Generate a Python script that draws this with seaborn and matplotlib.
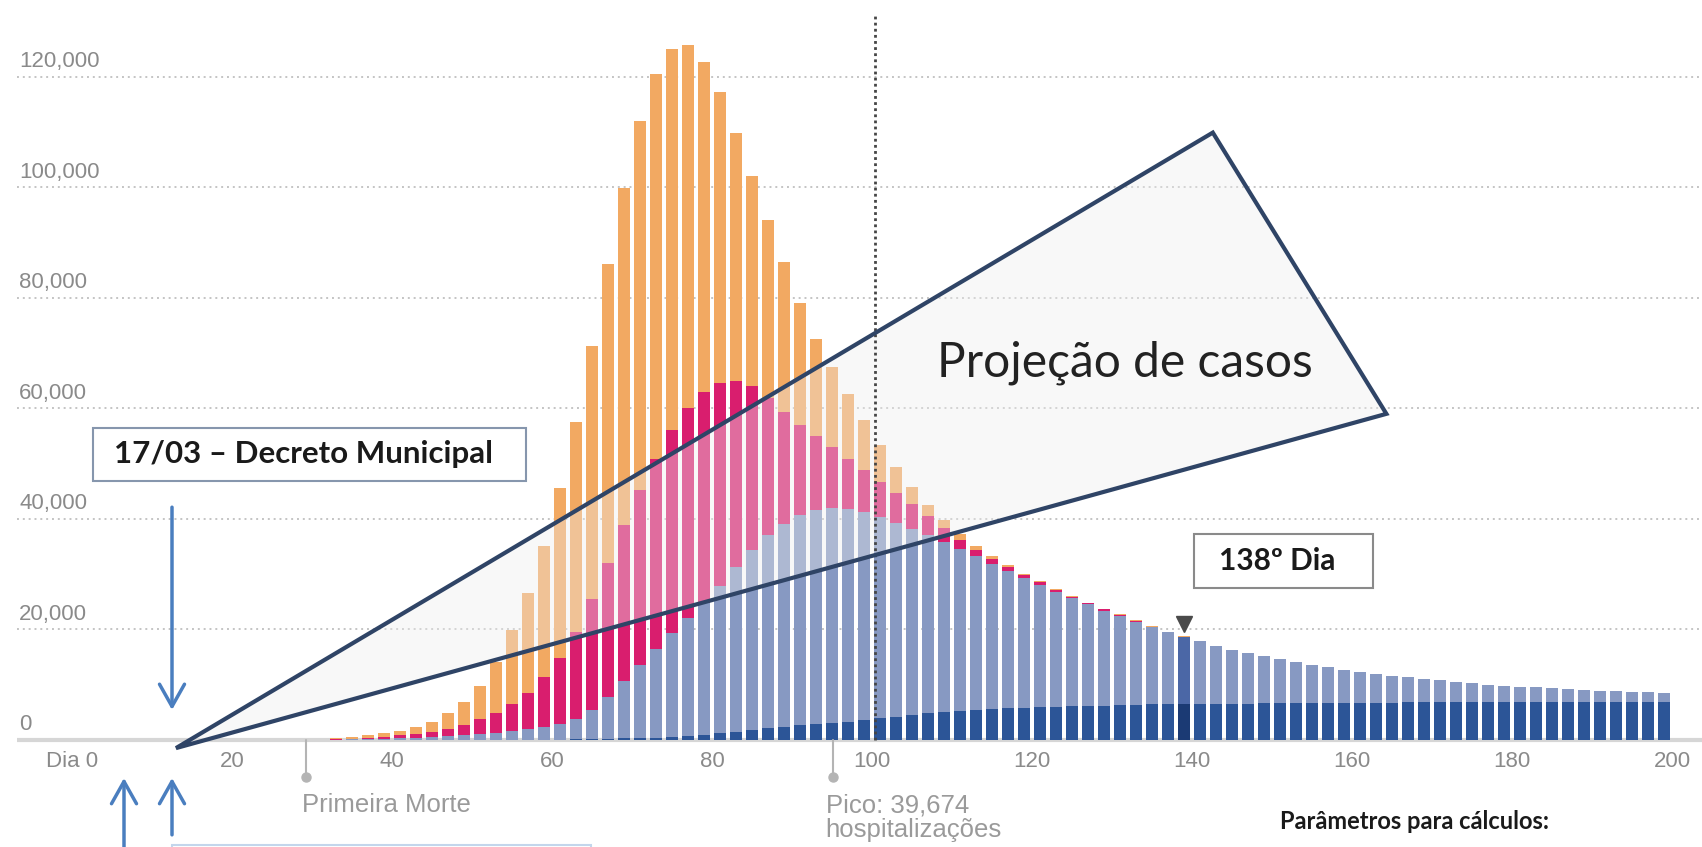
import numpy as np
import pandas as pd
import matplotlib
matplotlib.use("Agg")
import matplotlib.pyplot as plt
import seaborn as sns
from matplotlib.patches import Polygon, Rectangle

# ======================= DATA ======================
# one bar every 2 days (odd day positions), values in thousands
days = list(range(33, 200, 2))

casos = [0.3, 0.5, 0.8, 1.2, 1.6, 2.3, 3.3, 4.8, 6.8, 9.8, 14.0, 19.9, 26.6, 35.0,
         45.6, 57.5, 71.2, 86.1, 99.8, 112.0, 120.5, 125.1, 125.7, 122.7, 117.2,
         109.9, 102.0, 94.0, 86.4, 79.1, 72.5, 67.5, 62.5, 57.8, 53.3, 49.4, 45.7,
         42.5, 39.8, 37.2, 35.0, 33.2, 31.6, 30.1, 28.7, 27.3, 26.0, 24.8, 23.7,
         22.7, 21.6, 20.6, 19.6, 18.7,
         17.8, 17.0, 16.3, 15.7, 15.1, 14.6, 14.0, 13.5, 13.1, 12.7, 12.3, 12.0,
         11.6, 11.3, 11.0, 10.8, 10.5, 10.2, 10.0, 9.8, 9.6, 9.5, 9.3, 9.2, 9.0,
         8.9, 8.8, 8.7, 8.6, 8.4]

graves = [0.1, 0.2, 0.35, 0.5, 0.8, 1.1, 1.5, 2.0, 2.7, 3.7, 4.9, 6.5, 8.5, 11.4,
          14.8, 19.5, 25.5, 32.0, 38.8, 45.2, 50.9, 56.0, 60.0, 63.0, 64.6, 65.0,
          64.0, 61.8, 59.3, 57.0, 55.0, 53.0, 50.9, 48.8, 46.7, 44.6, 42.6, 40.5,
          38.4, 36.2, 34.4, 32.8, 31.3, 29.9, 28.5, 27.2, 25.9, 24.7, 23.6, 22.6,
          21.5, 20.5, 19.5, 18.6,
          17.8, 17.0, 16.3, 15.7, 15.1, 14.6, 14.0, 13.5, 13.1, 12.7, 12.3, 12.0,
          11.6, 11.3, 11.0, 10.8, 10.5, 10.2, 10.0, 9.8, 9.6, 9.5, 9.3, 9.2, 9.0,
          8.9, 8.8, 8.7, 8.6, 8.4]

hospitalizacoes = [0.05, 0.1, 0.15, 0.2, 0.3, 0.4, 0.5, 0.6, 0.8, 1.0, 1.3, 1.6,
                   2.0, 2.4, 2.9, 3.7, 5.4, 7.8, 10.6, 13.6, 16.5, 19.3, 22.0,
                   24.8, 27.9, 31.2, 34.3, 37.0, 39.0, 40.6, 41.6, 42.0, 41.8,
                   41.2, 40.3, 39.3, 38.2, 37.0, 35.8, 34.5, 33.2, 31.9, 30.6,
                   29.3, 28.0, 26.8, 25.6, 24.5, 23.4, 22.4, 21.4, 20.4, 19.5, 18.6,
                   17.8, 17.0, 16.3, 15.7, 15.1, 14.6, 14.0, 13.5, 13.1, 12.7, 12.3,
                   12.0, 11.6, 11.3, 11.0, 10.8, 10.5, 10.2, 10.0, 9.8, 9.6, 9.5,
                   9.3, 9.2, 9.0, 8.9, 8.8, 8.7, 8.6, 8.4]

uti = [0, 0, 0, 0, 0, 0, 0, 0, 0, 0, 0, 0, 0, 0, 0,
       0.1, 0.15, 0.2, 0.25, 0.3, 0.4, 0.5, 0.6, 0.9, 1.2, 1.5, 1.8, 2.1, 2.4,
       2.7, 2.9, 3.1, 3.3, 3.5,
       3.9, 4.2, 4.5, 4.8, 5.0, 5.2, 5.4, 5.6, 5.7, 5.8, 5.9, 6.0, 6.1, 6.2, 6.2,
       6.3, 6.3, 6.4, 6.4, 6.4, 6.5, 6.5, 6.5, 6.5, 6.6, 6.6, 6.6, 6.6, 6.7, 6.7,
       6.7, 6.7, 6.7, 6.8, 6.8, 6.8, 6.8, 6.8, 6.8, 6.9, 6.9, 6.9, 6.9, 6.9, 6.9,
       6.9, 6.9, 6.9, 6.9, 6.9]

x_ticks = [0, 20, 40, 60, 80, 100, 120, 140, 160, 180, 200]
x_tick_labels = ["Dia 0", "20", "40", "60", "80", "100", "120", "140", "160", "180", "200"]
y_ticks = [0, 20000, 40000, 60000, 80000, 100000, 120000]
y_tick_labels = ["0", "20,000", "40,000", "60,000", "80,000", "100,000", "120,000"]

dia_destaque = 139          # bar marked "138º Dia"
dia_primeira_morte = 29.25
dia_pico = 95.1
dia_hoje = 100.4            # dotted vertical line

# projection triangle (day, value)
triangulo = [(13, -1500), (142.6, 109900), (164.3, 59000)]

df = pd.DataFrame({"dia": days,
                   "casos": np.array(casos) * 1000,
                   "graves": np.array(graves) * 1000,
                   "hosp": np.array(hospitalizacoes) * 1000,
                   "uti": np.array(uti) * 1000})

# ======================= PLOT ======================
sns.set_theme(style="white")
plt.rcParams["font.family"] = ["Liberation Sans", "DejaVu Sans"]

fig = plt.figure(figsize=(17.02, 8.47), dpi=100)
ax = fig.add_axes([0, 0, 1, 1])

grey_txt = "#8a8a8a"

# gridlines + baseline
ax.hlines(y_ticks[1:], -6.9, 204, colors="#c4c4c4", linestyles=(0, (1, 2)), lw=1.4, zorder=1)
ax.hlines(0, -6.9, 204, colors="#d6d6d6", lw=3, zorder=1.5)

layers = [("casos", "#f2a962", "#f2a962"),
          ("graves", "#d91e6e", "#d91e6e"),
          ("hosp", "#8799c2", "#4b67a6"),
          ("uti", "#2c5597", "#1b3a74")]
for col, color, highlight in layers:
    sns.barplot(data=df, x="dia", y=col, native_scale=True, width=0.78, color=color,
                saturation=1, errorbar=None, linewidth=0, ax=ax, zorder=2)
    for p in ax.containers[-1]:
        if abs(p.get_x() + p.get_width() / 2 - dia_destaque) < 0.5:
            p.set_facecolor(highlight)

# projection triangle
ax.add_patch(Polygon(triangulo, closed=True, facecolor=(0.93, 0.93, 0.93, 0.38),
                     edgecolor="none", zorder=3))
ax.vlines(dia_hoje, 0, 131500, colors="#454545", linestyles=(0, (1, 1.2)), lw=2, zorder=4)
ax.add_patch(Polygon(triangulo, closed=True, facecolor="none", edgecolor="#2f4466",
                     lw=3, joinstyle="miter", zorder=5))
ax.text(108.1, 65700, "Projeção de casos", fontsize=34.5, family="Lato", color="#222222",
        ha="left", va="baseline", zorder=6)

# markers below the axis
for d in [dia_primeira_morte, dia_pico]:
    ax.plot([d, d], [0, -6700], color="#b4b4b4", lw=1.5, zorder=2)
    ax.plot(d, -6700, marker="o", ms=6.5, color="#b4b4b4", zorder=2)
ax.text(dia_primeira_morte - 0.5, -11800, "Primeira Morte", fontsize=18.5, color="#9a9a9a",
        ha="left", va="center")
ax.text(dia_pico - 0.9, -11800, "Pico: 39,674", fontsize=18.5, color="#9a9a9a",
        ha="left", va="center")
ax.text(dia_pico - 0.9, -16300, "hospitalizações", fontsize=18.5, color="#9a9a9a",
        ha="left", va="center")

ax.plot(dia_destaque, 20900, marker="v", ms=11, color="#4a4a4a", zorder=6)

# boxes
ax.add_patch(Rectangle((2.6, 46900), 54.1, 9500, facecolor="white", edgecolor="#8696ad",
                       lw=1.5, zorder=6))
ax.text(29.0, 51700, "17/03 – Decreto Municipal", fontsize=22.5, family="Lato", weight="bold",
        color="#1a1a1a", ha="center", va="center", zorder=7)
ax.add_patch(Rectangle((140.2, 27500), 22.4, 9800, facecolor="white", edgecolor="#8a8a8a",
                       lw=1.5, zorder=6))
ax.text(150.6, 32300, "138º Dia", fontsize=21.5, family="Lato", weight="bold",
        color="#1a1a1a", ha="center", va="center", zorder=7)
ax.text(151, -14800, "Parâmetros para cálculos:", fontsize=17, family="Lato", weight="bold",
        color="#1a1a1a", ha="left", va="center")
# top edge of a box that is cut off at the bottom
ax.add_patch(Rectangle((12.5, -23000), 52.4, 4000, facecolor="none", edgecolor="#c3d6ec",
                       lw=1.5, zorder=6))

# arrows
arrow = dict(arrowstyle="->,head_length=0.8,head_width=0.45", color="#4a7ebf", lw=2.5,
             mutation_scale=20, shrinkA=0, shrinkB=0)
ax.annotate("", xy=(12.5, 5400), xytext=(12.5, 42100), arrowprops=arrow, zorder=7)
ax.annotate("", xy=(6.5, -6900), xytext=(6.5, -22000), arrowprops=arrow, zorder=7)
ax.annotate("", xy=(12.5, -6900), xytext=(12.5, -17200), arrowprops=arrow, zorder=7)

# axes
ax.set_xlim(-9, 203.75)
ax.set_ylim(-19400, 133900)
ax.set_xticks(x_ticks, x_tick_labels)
ax.spines["bottom"].set_position(("data", 0))
for s in ax.spines.values():
    s.set_visible(False)
ax.tick_params(axis="x", length=0, pad=8, labelsize=16, labelcolor=grey_txt)
ax.set_yticks([])
for v, lbl in zip(y_ticks, y_tick_labels):
    ax.text(-6.6, v + 2700, lbl, fontsize=16, color=grey_txt, ha="left", va="center")
ax.set_xlabel("")
ax.set_ylabel("")

fig.savefig("out.png", dpi=100, facecolor="white")
